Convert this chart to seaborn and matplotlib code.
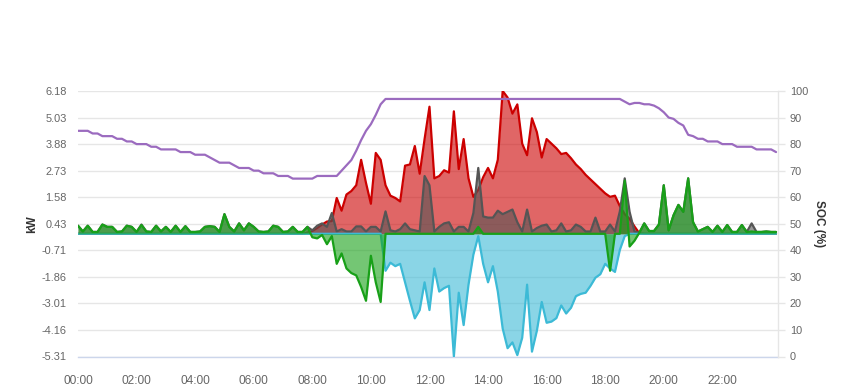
import numpy as np
import pandas as pd
import matplotlib
matplotlib.use("Agg")
import matplotlib.pyplot as plt
import seaborn as sns

# ---------------- data (10-minute samples, 00:00 .. 23:50) ----------------
hours = [i / 6 for i in range(144)]

grid_kw = [
    0.35, 0.10, 0.35, 0.08, 0.08, 0.40, 0.30, 0.30, 0.08, 0.10,
    0.35, 0.30, 0.08, 0.38, 0.10, 0.08, 0.35, 0.10, 0.30, 0.08,
    0.35, 0.08, 0.33, 0.08, 0.08, 0.10, 0.30, 0.33, 0.30, 0.08,
    0.85, 0.30, 0.10, 0.45, 0.15, 0.45, 0.30, 0.10, 0.08, 0.10,
    0.35, 0.30, 0.08, 0.10, 0.30, 0.08, 0.08, 0.30, -0.15, -0.20,
    -0.05, -0.45, -0.10, -1.30, -0.85, -1.50, -1.70, -1.80, -2.30, -2.90,
    -0.95, -2.10, -2.95, 0, 0, 0, 0, 0, 0, 0,
    0, 0, 0, 0, 0, 0, 0, 0, 0, 0,
    0, 0, 0.30, 0, 0, 0, 0, 0, 0, 0,
    0, 0, 0, 0, 0, 0, 0, 0, 0, 0,
    0, 0, 0, 0, 0, 0, 0, 0, 0, -1.60,
    0, 0, 2.30, -0.55, -0.30, 0.05, 0.45, 0.12, 0.12, 0.40,
    2.10, 0.15, 0.80, 1.25, 0.95, 2.40, 0.50, 0.10, 0.20, 0.30,
    0.08, 0.35, 0.08, 0.38, 0.08, 0.08, 0.38, 0.08, 0.10, 0.08,
    0.08, 0.10, 0.08, 0.08,
]

home_kw = [
    0.35, 0.10, 0.35, 0.08, 0.08, 0.40, 0.30, 0.30, 0.08, 0.10,
    0.35, 0.30, 0.08, 0.40, 0.10, 0.08, 0.35, 0.10, 0.30, 0.08,
    0.35, 0.08, 0.33, 0.08, 0.08, 0.10, 0.30, 0.33, 0.30, 0.08,
    0.85, 0.30, 0.10, 0.45, 0.15, 0.45, 0.30, 0.10, 0.08, 0.10,
    0.35, 0.30, 0.08, 0.10, 0.30, 0.08, 0.08, 0.30, 0.15, 0.35,
    0.45, 0.30, 0.90, 0.10, 0.20, 0.10, 0.10, 0.32, 0.32, 0.10,
    0.30, 0.30, 0.10, 0.97, 0.15, 0.10, 0.20, 0.45, 0.20, 0.15,
    0.10, 2.50, 2.10, 0.10, 0.30, 0.45, 0.50, 0.10, 0.30, 0.30,
    0.10, 0.90, 2.85, 0.75, 0.70, 0.70, 1.00, 0.85, 0.95, 1.05,
    0.50, 0.10, 1.05, 0.10, 0.25, 0.35, 0.40, 0.10, 0.15, 0.45,
    0.10, 0.15, 0.40, 0.30, 0.10, 0.10, 0.70, 0.10, 0.10, 0.40,
    0.10, 0.97, 2.40, 0.95, 0.10, 0.05, 0.45, 0.12, 0.12, 0.40,
    2.10, 0.15, 0.80, 1.25, 0.95, 2.40, 0.50, 0.10, 0.20, 0.30,
    0.08, 0.35, 0.08, 0.38, 0.08, 0.08, 0.38, 0.08, 0.45, 0.08,
    0.08, 0.10, 0.08, 0.08,
]

solar_kw = [0.0] * 47 + [
    0.05, 0.12, 0.25,
    0.40, 0.53, 0.55, 1.55, 1.00, 1.70, 1.85, 2.10, 3.20, 2.20,
    1.30, 3.50, 3.20, 2.10, 1.65, 1.55, 1.40, 2.95, 3.00, 3.80,
    2.60, 4.10, 5.50, 2.40, 2.50, 2.75, 2.65, 5.30, 2.80, 4.10,
    2.40, 1.60, 1.90, 2.45, 2.85, 2.40, 3.20, 6.18, 5.90, 5.20,
    5.60, 3.90, 3.40, 5.00, 4.40, 3.30, 4.10, 3.90, 3.70, 3.45,
    3.50, 3.27, 3.00, 2.80, 2.55, 2.35, 2.15, 1.95, 1.75, 1.60,
    1.65, 1.20, 0.85, 0.65, 0.32, 0.02,
] + [0.0] * 28

battery_kw = [0.0] * 63 + [
    -1.60, -1.25, -1.40, -1.30, -2.10, -2.90, -3.66,
    -3.30, -2.10, -3.30, -1.50, -2.50, -2.35, -2.25, -5.31, -2.55, -3.95,
    -2.20, -0.90, -0.10, -1.30, -2.10, -1.40, -2.50, -4.10, -4.95, -4.70,
    -5.25, -4.50, -2.20, -5.10, -4.20, -2.95, -3.85, -3.80, -3.65, -3.10,
    -3.45, -3.20, -2.70, -2.60, -2.55, -2.25, -1.90, -1.75, -1.30, -1.50,
    -1.65, -0.70, -0.10,
] + [0.0] * 31

soc_pct = (
    [85, 85, 85, 84, 84, 83, 83, 83, 82, 82,
     81, 81, 80, 80, 80, 79, 79, 78, 78, 78,
     78, 77, 77, 77, 76, 76, 76, 75, 74, 73,
     73, 73, 72, 71, 71, 71, 70, 70, 69, 69,
     69, 68, 68, 68, 67, 67, 67, 67, 67, 68,
     68, 68, 68, 68, 70, 72, 74, 77.5, 81.5, 85,
     87.5, 91, 95]
    + [97] * 49
    + [96, 95, 95.5, 95.5, 95, 95, 94.5, 93.5,
       92, 90, 89.5, 88, 87, 83.5, 83, 82, 82, 81,
       81, 81, 80, 80, 80, 79, 79, 79, 79, 78,
       78, 78, 78, 77]
)

kw_ticks = [6.18, 5.03, 3.88, 2.73, 1.58, 0.43, -0.71, -1.86, -3.01, -4.16, -5.31]
soc_ticks = [0, 10, 20, 30, 40, 50, 60, 70, 80, 90, 100]
x_tick_hours = [0, 2, 4, 6, 8, 10, 12, 14, 16, 18, 20, 22]
x_tick_labels = ["00:00", "02:00", "04:00", "06:00", "08:00", "10:00",
                 "12:00", "14:00", "16:00", "18:00", "20:00", "22:00"]

df = pd.DataFrame({"hour": hours, "grid": grid_kw, "home": home_kw,
                   "solar": solar_kw, "battery": battery_kw, "soc": soc_pct})

# ---------------- style ----------------
sns.set_style("white")
plt.rcParams["font.family"] = ["Liberation Sans", "DejaVu Sans"]

W, H = 849, 390
fig = plt.figure(figsize=(W / 100, H / 100), dpi=100)
ax = fig.add_axes([78 / W, 1 - 356.5 / H, 700 / W, 265.5 / H])

RED, GREY, GREEN, CYAN, PURPLE = "#cc0000", "#555555", "#18a018", "#3cbad6", "#9b6bbf"

series = [("solar", RED, 1), ("home", GREY, 3), ("battery", CYAN, 5), ("grid", GREEN, 7)]
for col, colr, z in series:
    ax.fill_between(df["hour"], 0, df[col], color=colr, alpha=0.6, lw=0, zorder=z)
    sns.lineplot(data=df, x="hour", y=col, color=colr, linewidth=1.6, ax=ax,
                 zorder=z + 1, estimator=None)

ax.set_ylim(-5.31, 6.18)
ax.set_xlim(0, 23.9)
ax.set_yticks(kw_ticks)
ax.set_yticklabels([f"{v:.2f}" for v in kw_ticks])
ax.set_xticks(x_tick_hours)
ax.set_xticklabels(x_tick_labels)
ax.grid(axis="y", color="#e6e6e6", linewidth=1)
ax.grid(axis="x", visible=False)
ax.set_axisbelow(True)
for s in ["left", "top", "right"]:
    ax.spines[s].set_visible(False)
ax.spines["bottom"].set_color("#ccd6eb")
ax.spines["bottom"].set_linewidth(1)
ax.tick_params(axis="y", length=0, pad=8.0, labelsize=7.9, labelcolor="#666666")
ax.tick_params(axis="x", length=7, width=1, color="#ccd6eb", pad=6.5,
               labelsize=8.6, labelcolor="#666666")
ax.set_xlabel("")
ax.set_ylabel("kW", fontsize=8.5, fontweight="bold", color="#333333", labelpad=3)

ax2 = ax.twinx()
sns.lineplot(data=df, x="hour", y="soc", color=PURPLE, linewidth=1.6, ax=ax2, estimator=None)
ax2.set_ylim(0, 100)
ax2.set_yticks(soc_ticks)
ax2.set_yticklabels([str(v) for v in soc_ticks])
for s in ["left", "top", "bottom"]:
    ax2.spines[s].set_visible(False)
ax2.spines["right"].set_color("#e6e6e6")
ax2.spines["right"].set_linewidth(1)
ax2.tick_params(axis="y", length=5, width=1, color="#e6e6e6", pad=3.5,
                labelsize=7.9, labelcolor="#666666")
ax2.grid(False)
ax2.set_xlabel("")
ax2.set_ylabel("SOC (%)", fontsize=8.5, fontweight="bold", color="#333333",
               rotation=270, labelpad=12)

fig.savefig("out.png", dpi=100)
